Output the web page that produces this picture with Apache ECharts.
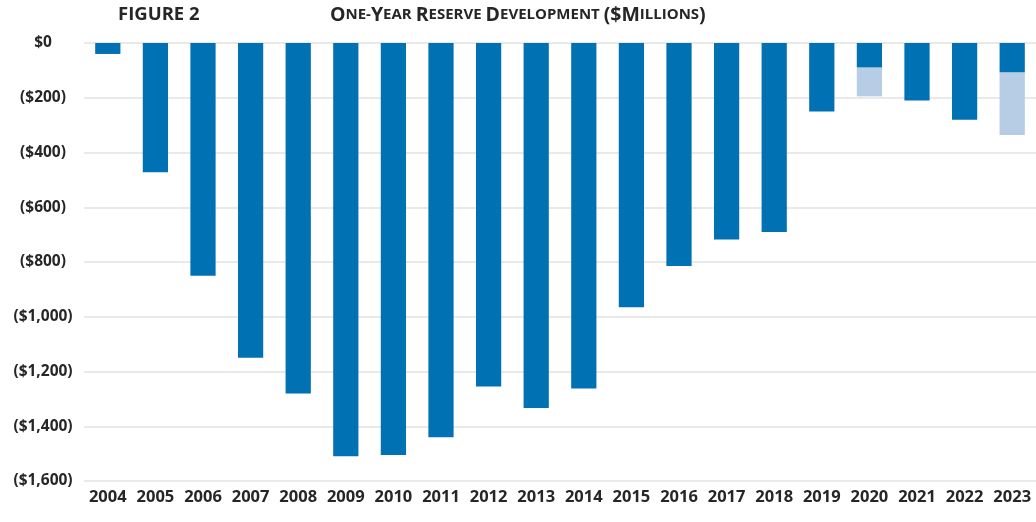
<!DOCTYPE html>
<html>
<head>
<meta charset="utf-8">
<script src="https://cdn.jsdelivr.net/npm/echarts@6/dist/echarts.min.js"></script>
<style>
html,body{margin:0;padding:0;background:#fff;}
#chart{width:1036px;height:522px;}
</style>
</head>
<body>
<div id="chart"></div>
<script>
const years = ['2004','2005','2006','2007','2008','2009','2010','2011','2012','2013','2014','2015','2016','2017','2018','2019','2020','2021','2022','2023'];
const reported = [-40,-472,-850,-1150,-1280,-1510,-1505,-1440,-1255,-1333,-1262,-965,-815,-718,-690,-250,-90,-210,-280,-108];
const additional = [0,0,0,0,0,0,0,0,0,0,0,0,0,0,0,0,-105,0,0,-228];
const yTickValues = [0,-200,-400,-600,-800,-1000,-1200,-1400,-1600];
const yTickLabels = ['$0','($200)','($400)','($600)','($800)','($1,000)','($1,200)','($1,400)','($1,600)'];

const textColor = '#262626';
const font = '"Open Sans", "Noto Sans", sans-serif';

const chart = echarts.init(document.getElementById('chart'), null, {renderer:'canvas'});
chart.setOption({
  animation:false,
  backgroundColor:'#ffffff',
  graphic:[
    {type:'text', left:118, top:5, style:{text:'FIGURE 2', fill:textColor, font:'bold 18.5px ' + font}},
    {type:'text', left:330, top:5, style:{
      text:'{b|O}{s|NE-}{b|Y}{s|EAR }{b|R}{s|ESERVE }{b|D}{s|EVELOPMENT }{b|($M}{s|ILLIONS}{b|)}',
      rich:{
        b:{fontFamily:font, fontWeight:'bold', fontSize:19.5, fill:textColor, color:textColor},
        s:{fontFamily:font, fontWeight:'bold', fontSize:15, fill:textColor, color:textColor}
      }
    }}
  ],
  grid:{left:84, right:0, top:43, bottom:41, containLabel:false},
  xAxis:{
    type:'category',
    data:years,
    axisLine:{show:false},
    axisTick:{show:false},
    axisLabel:{color:textColor, fontFamily:font, fontWeight:'bold', fontSize:16.5, margin:8, interval:0}
  },
  yAxis:{
    type:'value',
    min:-1600, max:0, interval:200,
    axisLine:{show:false},
    axisTick:{show:false},
    splitLine:{lineStyle:{color:'#e2e2e2', width:1.5}},
    axisLabel:{
      color:textColor, fontFamily:font, fontWeight:'bold', fontSize:15.5, margin:41, align:'center',
      formatter:function(v){ const i = yTickValues.indexOf(v); return i>=0 ? yTickLabels[i] : ''; }
    }
  },
  series:[
    {name:'Reported', type:'bar', stack:'dev', data:reported, barWidth:'53%',
      itemStyle:{color:'#0071b2'}},
    {name:'Additional', type:'bar', stack:'dev', data:additional, barWidth:'53%',
      itemStyle:{color:'#b7cce5'}}
  ]
});
</script>
</body>
</html>
